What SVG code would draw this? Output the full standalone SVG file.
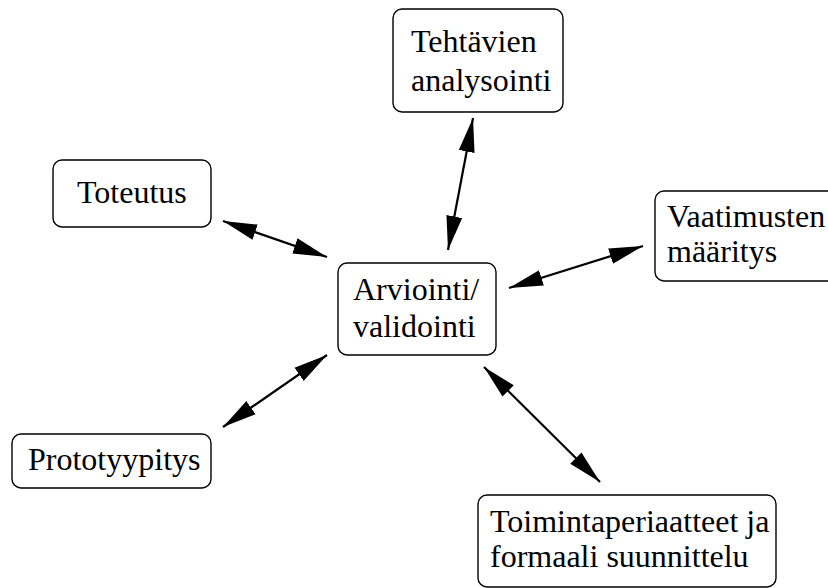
<svg xmlns="http://www.w3.org/2000/svg" width="828" height="588" viewBox="0 0 828 588">
<defs>
<style>
.box{fill:#fff;stroke:#000;stroke-width:1.4}
.t{font-family:"Liberation Serif","Times New Roman",serif;font-size:32px;fill:#000}
.c{stroke:#000;stroke-width:2.2;fill:none;marker-start:url(#ah);marker-end:url(#ah)}
</style>
<marker id="ah" markerUnits="userSpaceOnUse" markerWidth="36" markerHeight="18" refX="34" refY="8" orient="auto-start-reverse" viewBox="0 0 36 16">
<path d="M0,0 L34,8 L0,16 z" fill="#000"/>
</marker>
</defs>
<rect width="828" height="588" fill="#fff"/>
<g id="connectors">
<line class="c" x1="448" y1="250" x2="473" y2="118"/>
<line class="c" x1="327" y1="257" x2="223" y2="221"/>
<line class="c" x1="509" y1="288" x2="643" y2="246"/>
<line class="c" x1="327" y1="355" x2="223" y2="427"/>
<line class="c" x1="484" y1="367" x2="600" y2="482"/>
</g>
<g id="tehtavien">
<rect class="box" x="393" y="9" width="170" height="103" rx="9"/>
<text class="t" x="411" y="52">Tehtävien</text>
<text class="t" x="411" y="91">analysointi</text>
</g>
<g id="toteutus">
<rect class="box" x="53" y="160" width="158" height="67" rx="9"/>
<text class="t" x="77" y="203">Toteutus</text>
</g>
<g id="vaatimusten">
<rect class="box" x="655" y="191" width="190" height="90" rx="9"/>
<text class="t" x="667" y="227">Vaatimusten</text>
<text class="t" x="667" y="262">määritys</text>
</g>
<g id="arviointi">
<rect class="box" x="338" y="263" width="158" height="92" rx="9"/>
<text class="t" x="353" y="300">Arviointi/</text>
<text class="t" x="353" y="337">validointi</text>
</g>
<g id="prototyypitys">
<rect class="box" x="12" y="434" width="199" height="54" rx="9"/>
<text class="t" x="28" y="470">Prototyypitys</text>
</g>
<g id="toimintaperiaatteet">
<rect class="box" x="478" y="495" width="298" height="92" rx="9"/>
<text class="t" x="490" y="532">Toimintaperiaatteet ja</text>
<text class="t" x="490" y="567">formaali suunnittelu</text>
</g>
</svg>
